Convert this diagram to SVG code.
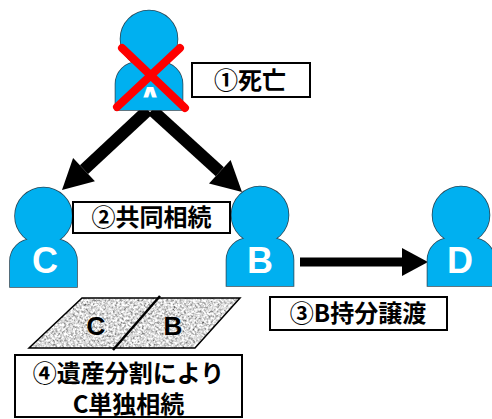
<svg xmlns="http://www.w3.org/2000/svg" xmlns:xlink="http://www.w3.org/1999/xlink" width="492" height="419" viewBox="0 0 492 419">
<style>
.body{fill:#00b0f0}
.outline{fill:#00b0f0;stroke:#2b4a5a;stroke-width:1.6}
.letter{font-family:"Liberation Sans",Arial,sans-serif;font-weight:bold;font-size:36px;fill:#ffffff;text-anchor:middle}
.box{fill:#ffffff;stroke:#000000;stroke-width:2}
.label{font-family:"Noto Sans CJK JP","Noto Sans CJK SC",sans-serif;font-weight:bold;font-size:24px;fill:#000000;text-anchor:middle}
.plot{font-family:"Liberation Sans",Arial,sans-serif;font-weight:bold;font-size:26px;fill:#000000;text-anchor:middle}
.shaft{stroke:#000000;fill:none}
.head{fill:#000000}
</style>
<defs>
<g id="person">
<path class="outline" d="M-33.5,71 V45 A22,22 0 0 1 -11.5,23 H11.5 A22,22 0 0 1 33.5,45 V71 Z"/>
<circle class="outline" cx="0" cy="0" r="28.5"/>
<path class="body" d="M-33.5,71 V45 A22,22 0 0 1 -11.5,23 H11.5 A22,22 0 0 1 33.5,45 V71 Z"/>
<circle class="body" cx="0" cy="0" r="28.5"/>
</g>
<clipPath id="clipA"><rect x="100" y="60" width="100" height="37.5"/></clipPath>
<filter id="grain" x="0" y="0" width="100%" height="100%">
<feTurbulence type="fractalNoise" baseFrequency="0.45" numOctaves="2" seed="7" result="n"/>
<feColorMatrix in="n" type="matrix" values="1.7 0 0 0 -0.15  1.7 0 0 0 -0.15  1.7 0 0 0 -0.15  0 0 0 0 1" result="g"/>
<feComposite in="g" in2="SourceGraphic" operator="in"/>
</filter>
</defs>

<g id="connectors">
<line class="shaft" x1="148" y1="110" x2="84" y2="169.6" stroke-width="12"/>
<polygon class="head" points="62,190 94.9,181.3 73.1,157.9"/>
<line class="shaft" x1="152" y1="110" x2="219.8" y2="171.8" stroke-width="12"/>
<polygon class="head" points="242,192 209,183.6 230.6,160"/>
<line class="shaft" x1="300" y1="262" x2="404" y2="262" stroke-width="9"/>
<polygon class="head" points="402,248 428,262 402,276"/>
</g>

<g id="node-A">
<use xlink:href="#person" href="#person" x="149" y="39"/>
<text class="letter" x="150" y="113" clip-path="url(#clipA)">A</text>
<line x1="122" y1="48" x2="185" y2="108" stroke="#ff0000" stroke-width="8" stroke-linecap="round"/>
<line x1="180" y1="48" x2="117" y2="107" stroke="#ff0000" stroke-width="8" stroke-linecap="round"/>
</g>

<g id="node-C">
<use xlink:href="#person" href="#person" x="43.5" y="216"/>
<text class="letter" x="45" y="273">C</text>
</g>

<g id="node-B">
<use xlink:href="#person" href="#person" x="260" y="215"/>
<text class="letter" x="260" y="273">B</text>
</g>

<g id="node-D">
<use xlink:href="#person" href="#person" x="461" y="215"/>
<text class="letter" x="460" y="273">D</text>
</g>

<g id="label-1">
<rect class="box" x="192" y="63" width="118" height="34"/>
<text class="label" x="250" y="89">①死亡</text>
</g>

<g id="label-2">
<rect class="box" x="73" y="202" width="157" height="31"/>
<text class="label" x="151.5" y="226">②共同相続</text>
</g>

<g id="label-3">
<rect class="box" x="270" y="297" width="177" height="33"/>
<text class="label" x="358" y="322">③B持分譲渡</text>
</g>

<g id="land">
<polygon points="82,298 240,298 195,348 29,348" fill="#b0b0b0"/>
<polygon points="82,298 240,298 195,348 29,348" fill="#b0b0b0" filter="url(#grain)"/>
<polygon points="82,298 240,298 195,348 29,348" fill="none" stroke="#000000" stroke-width="1.5"/>
<line x1="160" y1="296" x2="113" y2="350" stroke="#000000" stroke-width="2.5"/>
<text class="plot" x="96" y="335">C</text>
<text class="plot" x="173" y="335">B</text>
</g>

<g id="label-4">
<rect class="box" x="15" y="355" width="227" height="62"/>
<text class="label" x="128.5" y="382">④遺産分割により</text>
<text class="label" x="128.5" y="413">C単独相続</text>
</g>
</svg>
